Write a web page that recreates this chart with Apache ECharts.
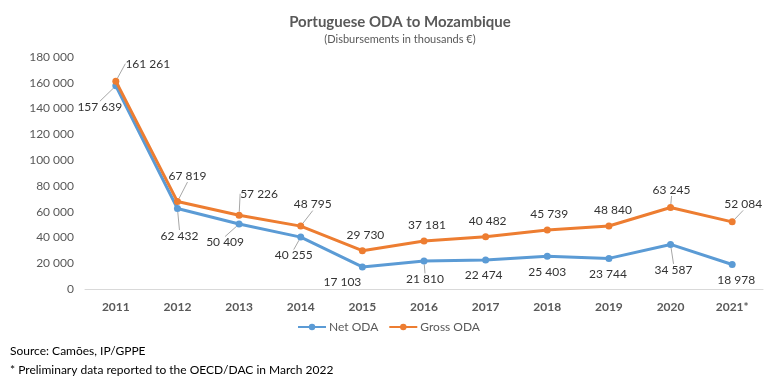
<!DOCTYPE html>
<html><head><meta charset="utf-8">
<script src="https://cdn.jsdelivr.net/npm/echarts@6/dist/echarts.min.js"></script>
<style>html,body{margin:0;padding:0;background:#fff}#c{width:777px;height:390px}</style>
</head><body><div id="c"></div>
<script>
var categories = ['2011','2012','2013','2014','2015','2016','2017','2018','2019','2020','2021*'];
var netODA   = [157639, 62432, 50409, 40255, 17103, 21810, 22474, 25403, 23744, 34587, 18978];
var grossODA = [161261, 67819, 57226, 48795, 29730, 37181, 40482, 45739, 48840, 63245, 52084];
var yTicks = [0, 20000, 40000, 60000, 80000, 100000, 120000, 140000, 160000, 180000];

// label offsets (dx, dy) relative to default label position, and leader flags
var grossOff = [[32,-2],[10,-10],[20,-6],[12,-6],[3,0],[3,0],[2,0],[2,0],[4,0],[1,-2],[11,-2]];
var grossLead = [1,1,1,1,0,0,0,0,0,1,1];
var netOff = [[-16,6],[2,12],[-14,3],[-7,3],[-20,0],[1,3],[-2,0],[0,0],[-1,0],[3,10],[4,0]];
var netLead = [1,1,1,1,0,1,0,0,0,1,0];

function fmt(v){ return String(v).replace(/\B(?=(\d{3})+(?!\d))/g,' '); }
var FONT = 'Lato, "Open Sans", sans-serif';

function mkData(vals, lead){
  return vals.map(function(v,i){
    return {value: v, labelLine: {show: !!lead[i]}};
  });
}

var chart = echarts.init(document.getElementById('c'));
chart.setOption({
  animation: false,
  textStyle: {fontFamily: FONT},
  title: {
    text: 'Portuguese ODA to Mozambique',
    subtext: '(Disbursements in thousands €)',
    left: 395, textAlign: 'center', top: 10, itemGap: 4,
    textStyle: {fontFamily: FONT, fontSize: 15, fontWeight: 'bold', color: '#595959'},
    subtextStyle: {fontFamily: FONT, fontSize: 11, color: '#595959'}
  },
  legend: {
    data: ['Net ODA','Gross ODA'],
    left: 'center', top: 316, itemWidth: 28, itemHeight: 8, itemGap: 10,
    textStyle: {fontFamily: FONT, fontSize: 12, color: '#595959', padding: [0,0,0,-2]}
  },
  graphic: [
    {type:'text', left: 10, top: 345, style:{text:'Source: Camões, IP/GPPE', font:'12px '+FONT, fill:'#000'}},
    {type:'text', left: 10, top: 364, style:{text:'* Preliminary data reported to the OECD/DAC in March 2022', font:'12px '+FONT, fill:'#000'}}
  ],
  grid: {left: 85, right: 14, top: 57, bottom: 101},
  xAxis: {
    type: 'category', data: categories, boundaryGap: true,
    axisLine: {lineStyle: {color: '#d9d9d9', width: 1}},
    axisTick: {show: false},
    axisLabel: {color: '#595959', fontSize: 12, fontWeight: 'bold', margin: 12, fontFamily: FONT}
  },
  yAxis: {
    type: 'value', min: yTicks[0], max: yTicks[yTicks.length-1], interval: yTicks[1]-yTicks[0],
    splitLine: {show: false}, axisLine: {show: false}, axisTick: {show: false},
    axisLabel: {color: '#595959', fontSize: 12, margin: 11, fontFamily: FONT, formatter: fmt}
  },
  series: [
    {
      name: 'Net ODA', type: 'line', data: mkData(netODA, netLead),
      symbol: 'circle', symbolSize: 7,
      lineStyle: {color: '#5B9BD5', width: 3}, itemStyle: {color: '#5B9BD5'},
      label: {show: true, position: 'bottom', distance: 6, color: '#333333', fontSize: 12, fontFamily: FONT,
              formatter: function(p){ return fmt(p.value); }},
      labelLine: {lineStyle: {color: '#a6a6a6', width: 1}},
      labelLayout: function(p){ var o = netOff[p.dataIndex]; return {dx: o[0], dy: o[1]}; },
      z: 2
    },
    {
      name: 'Gross ODA', type: 'line', data: mkData(grossODA, grossLead),
      symbol: 'circle', symbolSize: 7,
      lineStyle: {color: '#ED7D31', width: 3}, itemStyle: {color: '#ED7D31'},
      label: {show: true, position: 'top', distance: 6, color: '#333333', fontSize: 12, fontFamily: FONT,
              formatter: function(p){ return fmt(p.value); }},
      labelLine: {lineStyle: {color: '#a6a6a6', width: 1}},
      labelLayout: function(p){ var o = grossOff[p.dataIndex]; return {dx: o[0], dy: o[1]}; },
      z: 3
    }
  ]
});
</script></body></html>
